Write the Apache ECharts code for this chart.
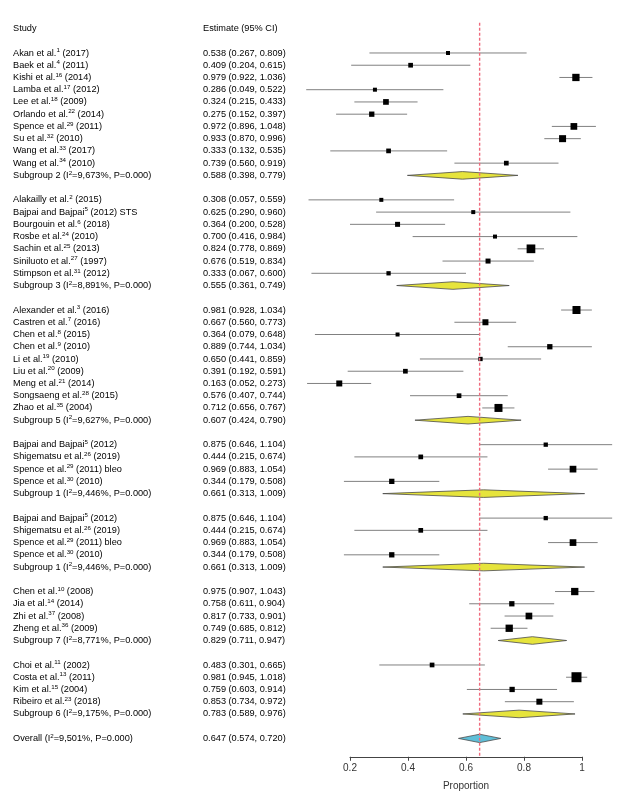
<!DOCTYPE html>
<html><head><meta charset="utf-8">
<script src="https://cdn.jsdelivr.net/npm/echarts@6/dist/echarts.min.js"></script>
<style>html,body{margin:0;padding:0;background:#fff}#c{width:640px;height:800px}</style>
</head><body><div id="c"></div>
<script>
// ---- data ----
const headerStudy = 'Study';
const headerEstimate = 'Estimate (95% CI)';
const studyNames = [
  'Akan et al.^1^ (2017)','Baek et al.^4^ (2011)','Kishi et al.^16^ (2014)','Lamba et al.^17^ (2012)','Lee et al.^18^ (2009)',
  'Orlando et al.^22^ (2014)','Spence et al.^29^ (2011)','Su et al.^32^ (2010)','Wang et al.^33^ (2017)','Wang et al.^34^ (2010)',
  'Alakailly et al.^2^ (2015)','Bajpai and Bajpai^5^ (2012) STS','Bourgouin et al.^6^ (2018)','Rosbe et al.^24^ (2010)',
  'Sachin et al.^25^ (2013)','Siniluoto et al.^27^ (1997)','Stimpson et al.^31^ (2012)',
  'Alexander et al.^3^ (2016)','Castren et al.^7^ (2016)','Chen et al.^8^ (2015)','Chen et al.^9^ (2010)','Li et al.^19^ (2010)',
  'Liu et al.^20^ (2009)','Meng et al.^21^ (2014)','Songsaeng et al.^28^ (2015)','Zhao et al.^35^ (2004)',
  'Bajpai and Bajpai^5^ (2012)','Shigematsu et al.^26^ (2019)','Spence et al.^29^ (2011) bleo','Spence et al.^30^ (2010)',
  'Bajpai and Bajpai^5^ (2012)','Shigematsu et al.^26^ (2019)','Spence et al.^29^ (2011) bleo','Spence et al.^30^ (2010)',
  'Chen et al.^10^ (2008)','Jia et al.^14^ (2014)','Zhi et al.^37^ (2008)','Zheng et al.^36^ (2009)',
  'Choi et al.^11^ (2002)','Costa et al.^13^ (2011)','Kim et al.^15^ (2004)','Ribeiro et al.^23^ (2018)'
];
const studyEst = [0.538,0.409,0.979,0.286,0.324,0.275,0.972,0.933,0.333,0.739,
  0.308,0.625,0.364,0.700,0.824,0.676,0.333,
  0.981,0.667,0.364,0.889,0.650,0.391,0.163,0.576,0.712,
  0.875,0.444,0.969,0.344,
  0.875,0.444,0.969,0.344,
  0.975,0.758,0.817,0.749,
  0.483,0.981,0.759,0.853];
const studyLow = [0.267,0.204,0.922,0.049,0.215,0.152,0.896,0.870,0.132,0.560,
  0.057,0.290,0.200,0.416,0.778,0.519,0.067,
  0.928,0.560,0.079,0.744,0.441,0.192,0.052,0.407,0.656,
  0.646,0.215,0.883,0.179,
  0.646,0.215,0.883,0.179,
  0.907,0.611,0.733,0.685,
  0.301,0.945,0.603,0.734];
const studyHigh = [0.809,0.615,1.036,0.522,0.433,0.397,1.048,0.996,0.535,0.919,
  0.559,0.960,0.528,0.984,0.869,0.834,0.600,
  1.034,0.773,0.648,1.034,0.859,0.591,0.273,0.744,0.767,
  1.104,0.674,1.054,0.508,
  1.104,0.674,1.054,0.508,
  1.043,0.904,0.901,0.812,
  0.665,1.018,0.914,0.972];
const studyWeight = [4,4.7,7.3,4,5.7,5.3,6.7,7,4.7,4.7,
  4,4,5,4,8.7,5,4.3,
  8,6,4,5.3,4.3,4.7,6,4.7,8,
  4.3,4.7,6.7,5.3,
  4.3,4.7,6.7,5.3,
  7.3,5.3,6.7,7.3,
  4.7,10,5.3,6];
const studyGroup = [0,0,0,0,0,0,0,0,0,0, 1,1,1,1,1,1,1, 2,2,2,2,2,2,2,2,2, 3,3,3,3, 4,4,4,4, 5,5,5,5, 6,6,6,6];
const groupNames = ['Subgroup 2 (I^2^=9,673%, P=0.000)','Subgroup 3 (I^2^=8,891%, P=0.000)','Subgroup 5 (I^2^=9,627%, P=0.000)',
  'Subgroup 1 (I^2^=9,446%, P=0.000)','Subgroup 1 (I^2^=9,446%, P=0.000)','Subgroup 7 (I^2^=8,771%, P=0.000)','Subgroup 6 (I^2^=9,175%, P=0.000)'];
const groupEst = [0.588,0.555,0.607,0.661,0.661,0.829,0.783];
const groupLow = [0.398,0.361,0.424,0.313,0.313,0.711,0.589];
const groupHigh = [0.779,0.749,0.790,1.009,1.009,0.947,0.976];
const overallName = 'Overall (I^2^=9,501%, P=0.000)';
const overallEst = [0.647], overallLow = [0.574], overallHigh = [0.720];
const axisTicks = [0.2, 0.4, 0.6, 0.8, 1.0];
const axisTitle = 'Proportion';

// ---- build rows ----
const rows = [{row:0, name:headerStudy, est:null, text:headerEstimate, kind:-1}];
let r = 2;
for (let g = 0; g < groupNames.length; g++) {
  for (let i = 0; i < studyNames.length; i++) {
    if (studyGroup[i] !== g) continue;
    rows.push({row:r++, name:studyNames[i], est:studyEst[i], lo:studyLow[i], hi:studyHigh[i], size:studyWeight[i], kind:0});
  }
  rows.push({row:r, name:groupNames[g], est:groupEst[g], lo:groupLow[g], hi:groupHigh[g], size:0, kind:1});
  r += 2;
}
rows.push({row:r, name:overallName, est:overallEst[0], lo:overallLow[0], hi:overallHigh[0], size:0, kind:2});
const lastRow = r;
rows.forEach(o => { if (o.kind >= 0) o.text = o.est.toFixed(3) + ' (' + o.lo.toFixed(3) + ', ' + o.hi.toFixed(3) + ')'; });

function toRich(s) {
  const parts = s.split('^');
  return parts.map((p, i) => p === '' ? '' : (i % 2 ? '{s|' + p + '}' : '{n|' + p + '}')).join('');
}
const FONT = '"Liberation Sans", Arial, sans-serif';
const TXT = '#231f20';
const rich = {
  n: {fontSize: 9.2, fontFamily: FONT, color: TXT, lineHeight: 11},
  s: {fontSize: 6.2, fontFamily: FONT, color: TXT, verticalAlign: 'top', lineHeight: 11, padding: [0, 0, 4, 0]}
};

const markData = rows.filter(o => o.kind >= 0).map(o => [o.est, o.row, o.lo, o.hi, o.size, o.kind]);
const textData = rows.map((o, i) => [0.2, o.row, i]);

function renderMark(params, api) {
  const est = api.value(0), row = api.value(1), lo = api.value(2), hi = api.value(3), size = api.value(4), kind = api.value(5);
  const c = api.coord([est, row]), l = api.coord([lo, row]), h = api.coord([hi, row]);
  if (kind === 0) {
    return {type: 'group', children: [
      {type: 'line', shape: {x1: l[0], y1: c[1], x2: h[0], y2: c[1]}, style: {stroke: '#808080', lineWidth: 1}},
      {type: 'rect', shape: {x: c[0] - size / 2, y: c[1] - size / 2, width: size, height: size}, style: {fill: '#000'}}
    ]};
  }
  const hh = kind === 2 ? 4.2 : 3.8;
  return {type: 'polygon', shape: {points: [[l[0], c[1]], [c[0], c[1] - hh], [h[0], c[1]], [c[0], c[1] + hh]]},
    style: {fill: kind === 2 ? '#5fbfd8' : '#e6e43c', stroke: '#4a4a4a', lineWidth: 0.8}};
}
function renderText(params, api) {
  const o = rows[api.value(2)];
  const y = api.coord([0.2, api.value(1)])[1];
  return {type: 'group', children: [
    {type: 'text', style: {text: toRich(o.name), rich: rich, x: 13, y: y, verticalAlign: 'middle', align: 'left'}},
    {type: 'text', style: {text: '{n|' + o.text + '}', rich: rich, x: 203, y: y, verticalAlign: 'middle', align: 'left'}}
  ]};
}
function renderRef(params, api) {
  const top = api.coord([api.value(0), -0.47]);
  const bot = api.coord([api.value(0), lastRow + 1.5]);
  return {type: 'line', shape: {x1: top[0], y1: top[1], x2: bot[0], y2: bot[1]},
    style: {stroke: '#ef6b7d', lineWidth: 1.4, lineDash: [3, 2]}, z2: 10};
}

const chart = echarts.init(document.getElementById('c'), null, {renderer: 'canvas'});
chart.setOption({
  animation: false,
  backgroundColor: '#fff',
  grid: {left: 350, width: 232, top: 28.5, height: (lastRow + 1.5) * 12.24},
  xAxis: {type: 'value', position: 'bottom', min: axisTicks[0], max: axisTicks[axisTicks.length - 1], interval: 0.2,
    axisLine: {show: true, onZero: false, lineStyle: {color: '#444', width: 1}},
    axisTick: {show: true, length: 4, lineStyle: {color: '#444'}},
    axisLabel: {color: '#333', fontSize: 10, fontFamily: FONT, margin: 6},
    splitLine: {show: false},
    name: axisTitle, nameLocation: 'middle', nameGap: 24,
    nameTextStyle: {color: '#333', fontSize: 10, fontFamily: FONT}},
  yAxis: {type: 'value', min: 0, max: lastRow + 1.5, inverse: true, show: false},
  series: [
    {type: 'custom', renderItem: renderMark, data: markData, clip: false, z: 2},
    {type: 'custom', renderItem: renderText, data: textData, clip: false, z: 3},
    {type: 'custom', renderItem: renderRef, data: [[overallEst[0], 0]], clip: false, z: 5}
  ]
});
</script></body></html>
